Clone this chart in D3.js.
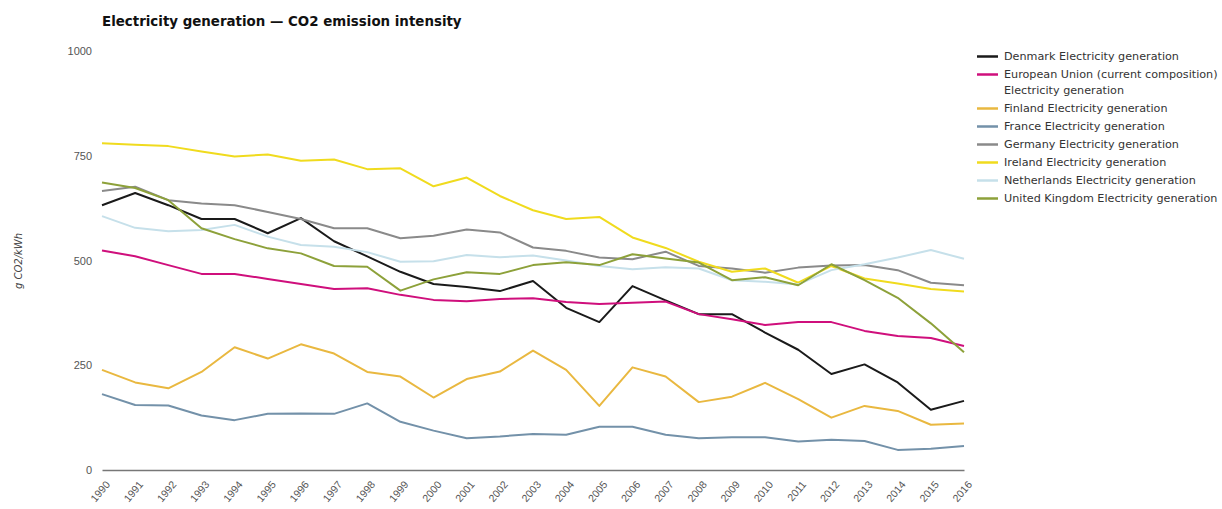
<!DOCTYPE html>
<html lang="en">
<head>
    <meta charset="UTF-8">
    <title>Electricity generation — CO2 emission intensity</title>
    <script src="https://d3js.org/d3.v7.min.js"></script>
    <style>
        body { margin: 0; background: #fff; font-family: "DejaVu Sans", Verdana, sans-serif; }
        .title { font-size: 13.4px; font-weight: bold; fill: #111; }
        .tick text { fill: #555; font-size: 11px; }
        .legend text { fill: #333; font-size: 11.2px; }
        .line { fill: none; stroke-width: 2px; stroke-linejoin: round; }
    </style>
</head>
<body>
    <svg width="1222" height="509"></svg>
    <script>
        const years = d3.range(1990, 2017);

        const denmark = [632, 661, 632, 599, 599, 565, 601, 546, 510, 473, 444, 437, 427, 451, 387, 353, 439, 405, 372, 372, 328, 287, 229, 252, 209, 144, 165];
        const eu = [524, 510, 489, 468, 468, 456, 444, 432, 434, 418, 406, 403, 408, 410, 401, 396, 399, 402, 372, 360, 346, 353, 353, 332, 320, 315, 296];
        const finland = [239, 209, 195, 234, 293, 266, 300, 278, 234, 223, 173, 217, 235, 285, 239, 153, 245, 223, 162, 175, 208, 169, 125, 153, 141, 108, 111];
        const france = [181, 155, 154, 130, 119, 134, 135, 134, 159, 115, 94, 76, 80, 86, 84, 103, 103, 84, 76, 78, 78, 68, 72, 69, 48, 51, 57];
        const germany = [666, 676, 644, 636, 632, 616, 599, 577, 577, 553, 559, 574, 567, 531, 523, 507, 503, 521, 487, 481, 471, 483, 488, 489, 477, 447, 441];
        const ireland = [780, 776, 773, 760, 748, 753, 738, 741, 718, 720, 677, 698, 654, 620, 599, 604, 555, 530, 497, 473, 481, 447, 487, 457, 445, 432, 426];
        const netherlands = [606, 578, 570, 573, 585, 557, 537, 533, 520, 497, 498, 513, 508, 512, 500, 487, 479, 484, 481, 453, 449, 443, 477, 491, 507, 525, 504];
        const uk = [686, 673, 644, 577, 551, 529, 517, 487, 485, 428, 455, 472, 468, 489, 496, 489, 515, 505, 495, 453, 460, 441, 491, 453, 411, 350, 281];

        const yTicks = [0, 250, 500, 750, 1000];

        const series = [
            {name: ["Denmark Electricity generation"], values: denmark, color: "#1a1a1a"},
            {name: ["European Union (current composition)", "Electricity generation"], values: eu, color: "#cf0f7c"},
            {name: ["Finland Electricity generation"], values: finland, color: "#e9b840"},
            {name: ["France Electricity generation"], values: france, color: "#7391a9"},
            {name: ["Germany Electricity generation"], values: germany, color: "#8a8a8a"},
            {name: ["Ireland Electricity generation"], values: ireland, color: "#f0db1e"},
            {name: ["Netherlands Electricity generation"], values: netherlands, color: "#c6e0ea"},
            {name: ["United Kingdom Electricity generation"], values: uk, color: "#8da13a"}
        ];

        const svg = d3.select("svg");

        const x = d3.scaleLinear().domain([1990, 2016]).range([102, 964]);
        const y = d3.scaleLinear().domain([0, 1000]).range([470, 51]);

        svg.append("text")
            .attr("class", "title")
            .attr("x", 102)
            .attr("y", 26)
            .text("Electricity generation \u2014 CO2 emission intensity");

        // y axis (labels only)
        const yAxis = svg.append("g")
            .attr("transform", "translate(92,0)")
            .call(d3.axisLeft(y).tickValues(yTicks).tickSize(0).tickPadding(0).tickFormat(d3.format("d")));
        yAxis.select(".domain").remove();

        svg.append("text")
            .attr("transform", "translate(22,261) rotate(-90)")
            .attr("text-anchor", "middle")
            .attr("font-size", 10)
            .attr("font-style", "italic")
            .attr("fill", "#444")
            .text("g CO2/kWh");

        // x axis
        const xAxis = svg.append("g")
            .attr("transform", "translate(0,470)")
            .call(d3.axisBottom(x).tickValues(years).tickSize(0).tickFormat(d3.format("d")));
        xAxis.select(".domain").attr("stroke", "#777").attr("stroke-width", 1.5);
        xAxis.selectAll("text")
            .attr("text-anchor", "end")
            .attr("dy", null)
            .attr("y", 0)
            .style("font-size", "10.5px")
            .attr("transform", "translate(6,13) rotate(-50)")
            .attr("dominant-baseline", "middle");

        const line = d3.line()
            .x((d, i) => x(years[i]))
            .y(d => y(d));

        svg.append("g")
            .selectAll("path")
            .data(series)
            .join("path")
            .attr("class", "line")
            .attr("stroke", d => d.color)
            .attr("d", d => line(d.values));

        // legend
        const legend = svg.append("g").attr("class", "legend");
        let ly = 56.5;
        series.forEach(s => {
            legend.append("line")
                .attr("x1", 977).attr("x2", 998)
                .attr("y1", ly).attr("y2", ly)
                .attr("stroke", s.color)
                .attr("stroke-width", 2.5);
            s.name.forEach((t, j) => {
                legend.append("text")
                    .attr("x", 1004)
                    .attr("y", ly + j * 16)
                    .attr("dy", "0.35em")
                    .text(t);
            });
            ly += 18 + (s.name.length - 1) * 16;
        });
    </script>
</body>
</html>
